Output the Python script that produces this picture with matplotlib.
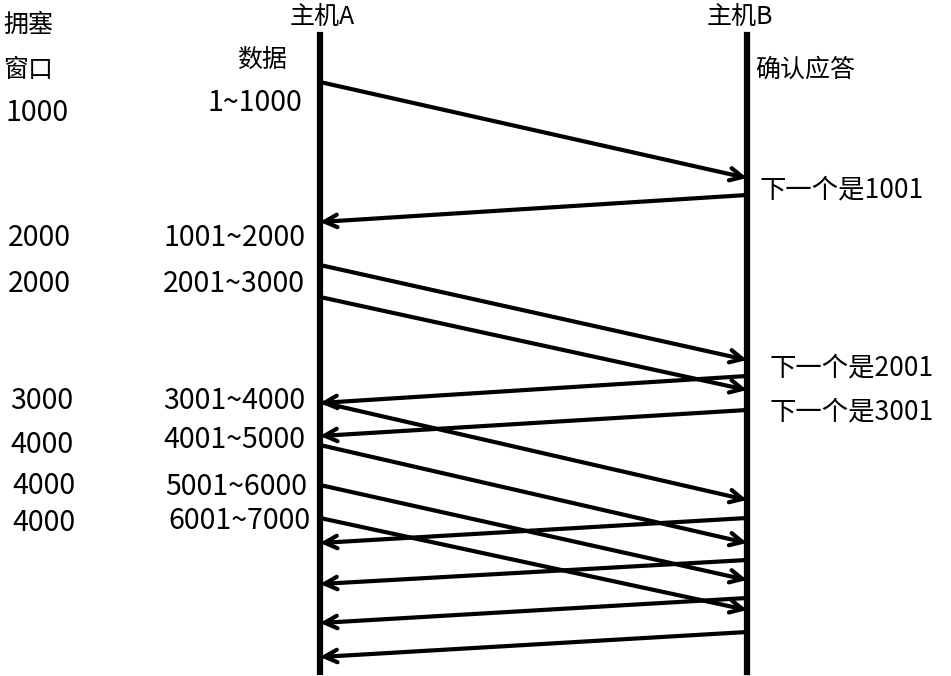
import matplotlib
matplotlib.use("Agg")
import matplotlib.pyplot as plt

plt.rcParams['font.family'] = ['Noto Sans CJK SC', 'DejaVu Sans']

# arrows A->B: (y at A, y at B) ; B->A: (y at B, y at A)
a_to_b = [(82, 178), (265, 360), (297, 390), (402, 500), (445, 543), (485, 580), (518, 610)]
b_to_a = [(195, 222), (376, 403), (410, 436), (518, 543), (560, 584), (598, 623), (632, 657)]
cwnd_labels = ["1000", "2000", "2000", "3000", "4000", "4000", "4000"]
cwnd_y = [113, 238, 284, 401, 445, 486, 523]
cwnd_x = [5, 8, 8, 10, 10, 12, 12]
data_labels = ["1~1000", "1001~2000", "2001~3000", "3001~4000", "4001~5000", "5001~6000", "6001~7000"]
data_y = [103, 238, 284, 401, 440, 487, 521]
data_x = [207, 163, 163, 163, 163, 165, 168]
ack_labels = ["下一个是1001", "下一个是2001", "下一个是3001"]
ack_y = [190, 368, 412]
ack_x = [760, 770, 770]

XA, XB = 320, 747
fig = plt.figure(figsize=(9.51, 6.76), dpi=100)
ax = fig.add_axes([0, 0, 1, 1])
ax.set_xlim(0, 951); ax.set_ylim(676, 0); ax.axis('off')

ax.plot([XA, XA], [35, 672], color='black', lw=4.5)
ax.plot([XB, XB], [35, 672], color='black', lw=4.5)

kw = dict(arrowstyle='->,head_length=0.9,head_width=0.45', color='black', lw=3, shrinkA=0, shrinkB=0)
for ya, yb in a_to_b:
    ax.annotate('', xy=(XB, yb), xytext=(XA, ya), arrowprops=kw)
for yb, ya in b_to_a:
    ax.annotate('', xy=(XA, ya), xytext=(XB, yb), arrowprops=kw)

fs = 18
fn = 20.5
ax.text(XA + 2, 18, "主机A", fontsize=fs, ha='center', va='center')
ax.text(XB - 7, 18, "主机B", fontsize=fs, ha='center', va='center')
ax.text(3, 25, "拥塞", fontsize=fs, va='center')
ax.text(3, 70, "窗口", fontsize=fs, va='center')
ax.text(237, 60, "数据", fontsize=fs, va='center')
ax.text(755, 70, "确认应答", fontsize=fs, va='center')
for t, x, y in zip(cwnd_labels, cwnd_x, cwnd_y):
    ax.text(x, y, t, fontsize=fn, va='center')
for t, x, y in zip(data_labels, data_x, data_y):
    ax.text(x, y, t, fontsize=fn, va='center')
for t, x, y in zip(ack_labels, ack_x, ack_y):
    ax.text(x, y, t, fontsize=19, va='center')

fig.savefig("out.png", dpi=100, facecolor='white')
